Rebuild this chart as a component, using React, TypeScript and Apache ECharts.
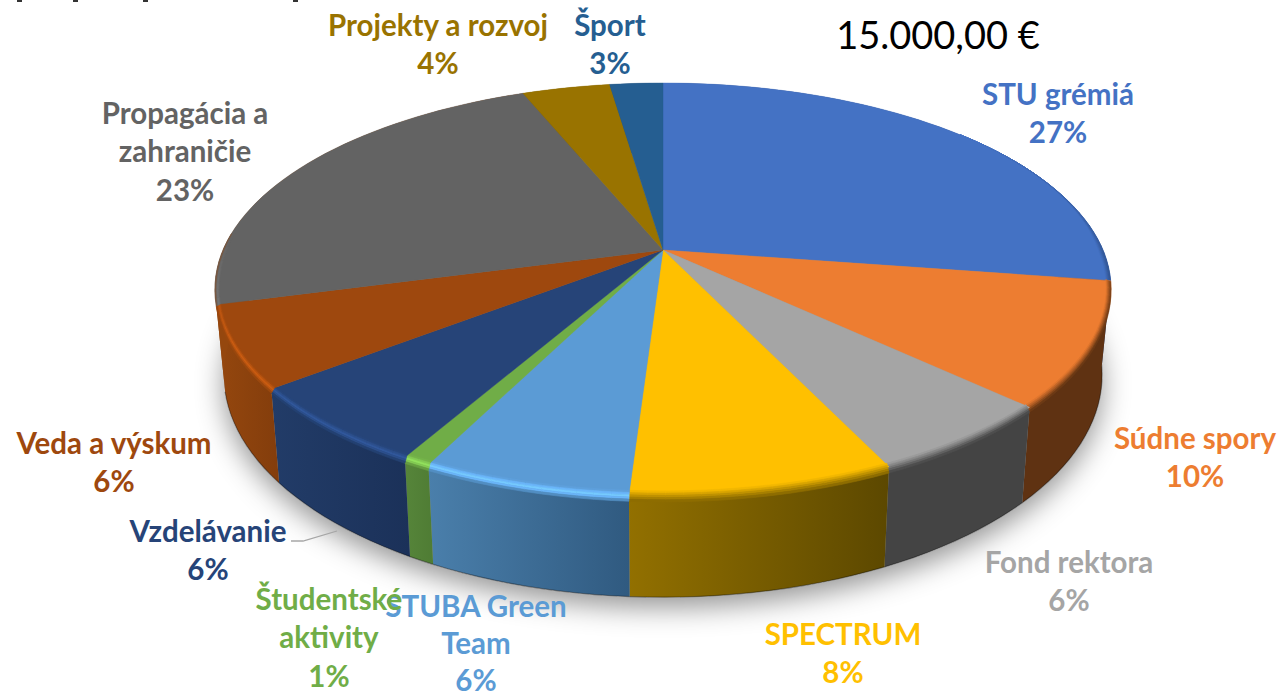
import React, { useEffect, useRef } from "react";
import * as echarts from "echarts";

// Names and rounded percentages printed on the chart
const categories = ["STU grémiá", "Súdne spory", "Fond rektora", "SPECTRUM", "STUBA Green\nTeam", "Študentské\naktivity", "Vzdelávanie", "Veda a výskum", "Propagácia a\nzahraničie", "Projekty a rozvoj", "Šport"];
const percentLabels = [27, 10, 6, 8, 6, 1, 6, 6, 23, 4, 3];
// Slice shares
const shares = [27.4, 9.7, 5.9, 8.0, 6.3, 0.85, 6.25, 6.4, 23.1, 3.8, 2.3];
const totalLabel = "15.000,00 €";

const topColors = ["#4472c4", "#ed7d31", "#a5a5a5", "#ffc000", "#5b9bd5", "#70ad47", "#264478", "#9e480e", "#636363", "#997300", "#255e91"];
const sideFrom = ["#2b4a80", "#5f3212", "#444444", "#927000", "#4a7fab", "#56853a", "#223c68", "#95470e", "#95470e", "#6a5000", "#1b4468"];
const sideTo = ["#2b4a80", "#5f3212", "#444444", "#5c4800", "#305a80", "#4f7c34", "#1b3159", "#833d0c", "#95470e", "#6a5000", "#1b4468"];
const labelCenters = [[1058, 93], [1195, 437], [1069, 561], [843, 633], [476, 605], [329, 598], [208, 530], [114, 442], [185, 112], [438, 24], [610, 24]];
const labelGaps = [38.5, 38.5, 38.5, 38.5, 37, 38.5, 38.5, 38.5, 38.5, 38.5, 38.5];

const CX = 663, CY = 250, A = 198.6, B = 440, K = -0.189, DEPTH = 83, BOTTOM_X = 0.98;
const FONT = "Lato, Carlito, sans-serif";
const TOTAL = shares.reduce((a, b) => a + b, 0);
const rad = (v: number) => (v / TOTAL) * Math.PI * 2;
const startOf = (i: number) => rad(shares.slice(0, i).reduce((a, b) => a + b, 0));

const uv = (t: number) => [Math.sin(t), -Math.cos(t)];
const top = (t: number, r = 1) => {
  const [u, v] = uv(t);
  const w = 1 + K * r * v;
  return [CX + (B * r * u) / w, CY + (A * r * v) / w];
};
const bottom = (t: number) => {
  const [u, v] = uv(t);
  const w = 1 + K * v;
  return [CX + (BOTTOM_X * B * u) / w, CY + (A * v) / w + DEPTH / w];
};
const arc = (a: number, b: number, f: (t: number) => number[]) => {
  const n = Math.max(2, Math.ceil((b - a) / (Math.PI / 90)));
  const out: number[][] = [];
  for (let i = 0; i <= n; i++) out.push(f(a + ((b - a) * i) / n));
  return out;
};
const hex = (c: string) => [1, 3, 5].map((i) => parseInt(c.slice(i, i + 2), 16));
const css = (c: number[]) => `rgb(${c.map((v) => Math.round(Math.min(255, Math.max(0, v)))).join(",")})`;
const mix = (a: number[], b: number[], s: number) => a.map((v, i) => v + (b[i] - v) * s);
const clamp = (v: number) => Math.min(1, Math.max(0, v));

// f = 1 on the inside of the bevel, f = 0 on its outer edge, which lies over the side wall
const rimPoint = (t: number, f: number) => {
  const [u, v] = uv(t);
  const p = top(t);
  const g = clamp((v + 0.45) / 0.45);
  const inner = 4 * Math.max(v, 0.28) * g;
  const outer = 7 * Math.max(v, 0);
  return [p[0] - 5 * u * g * f, p[1] - inner * f + outer * (1 - f)];
};

const rimBands = (i: number, a: number, b: number) => {
  const out: any[] = [];
  const tc = hex(topColors[i]);
  const sc = mix(hex(sideFrom[i]), hex(sideTo[i]), 0.3);
  const fs = [1, 0.8, 0.6, 0.4, 0.2, 0];
  const step = Math.PI / 90;
  const n = Math.max(1, Math.ceil((b - a) / step));
  const lit = i >= 4;
  for (let s = 0; s < n; s++) {
    const t0 = a + ((b - a) * s) / n;
    const t1 = a + ((b - a) * (s + 1)) / n;
    const deg = (((t0 + t1) / 2) * 180) / Math.PI;
    if (deg < 50 || deg > 275) continue;
    const dark = lit ? 0.2 : clamp((deg - 50) / 60);
    const light = lit ? clamp((275 - deg) / 30) : 0;
    for (let k = 0; k < fs.length - 1; k++) {
      const f = (fs[k] + fs[k + 1]) / 2;
      const bump = Math.max(0, 1 - Math.abs(f - 0.5) / 0.45);
      let c = tc.map((x) => x * (1 + 0.3 * light * bump));
      const toSide = lit ? clamp((0.25 - f) / 0.25) * 0.7 : dark * (1 - f);
      c = mix(c, sc, toSide);
      const color = css(c);
      out.push({
        type: "polygon",
        shape: { points: [rimPoint(t0, fs[k]), rimPoint(t1, fs[k]), rimPoint(t1, fs[k + 1]), rimPoint(t0, fs[k + 1])] },
        style: { fill: color, stroke: color, lineWidth: 0.6 },
      });
    }
  }
  return out;
};

const shadowItem = () => ({
  type: "polygon",
  shape: { points: arc(0, Math.PI * 2, bottom) },
  style: { fill: "#999999", shadowBlur: 28, shadowOffsetY: 10, shadowOffsetX: 0, shadowColor: "rgba(0,0,0,0.42)" },
});

const sideItem = (params: any) => {
  const i = params.dataIndex;
  const a = startOf(i);
  const b = a + rad(shares[i]);
  const upper = arc(a, b, (t) => top(t));
  const lower = arc(a, b, bottom);
  const edge = i > 7 ? [] : lower.filter((_, k) => uv(a + ((b - a) * k) / (lower.length - 1))[1] > -0.05);
  const children: any[] = [{
    type: "polygon",
    shape: { points: [...upper, ...lower.slice().reverse()] },
    style: {
      fill: { type: "linear", x: 0, y: 0, x2: 1, y2: 0, colorStops: [{ offset: 0, color: sideFrom[i] }, { offset: 1, color: sideTo[i] }] },
    },
  }];
  if (edge.length > 1) {
    children.push({ type: "polyline", shape: { points: edge }, style: { fill: "none", stroke: "rgba(0,0,0,0.35)", lineWidth: 1.2 } });
  }
  return { type: "group", children };
};

const topItem = (params: any) => {
  const i = params.dataIndex;
  const a = startOf(i);
  const b = a + rad(shares[i]);
  const color = topColors[i];
  const lines = [...categories[i].split("\n"), `${percentLabels[i]}%`];
  const [lx, ly] = labelCenters[i];
  return {
    type: "group",
    children: [
      { type: "polygon", shape: { points: [[CX, CY], ...arc(a, b, (t) => top(t))] }, style: { fill: color, stroke: color, lineWidth: 0.4 } },
      ...rimBands(i, a, b),
      ...lines.map((text, k) => ({
        type: "text",
        z2: 50,
        style: { text, x: lx, y: ly + k * labelGaps[i], fill: color, font: `bold 29.5px ${FONT}`, align: "center", verticalAlign: "middle" },
      })),
    ],
  };
};

export default function App() {
  const ref = useRef<HTMLDivElement>(null);
  useEffect(() => {
    document.body.style.margin = "0";
    const chart = echarts.init(ref.current!, null, { renderer: "svg" });
    const data = shares.map((v) => [v]);
    chart.setOption({
      animation: false,
      backgroundColor: "#ffffff",
      graphic: [
        { type: "text", z: 100, style: { text: totalLabel, x: 938, y: 34, fill: "#000000", font: `38px ${FONT}`, align: "center", verticalAlign: "middle" } },
        { type: "polyline", z: 100, shape: { points: [[291, 541], [303, 541], [337, 531]] }, style: { fill: "none", stroke: "#a6a6a6", lineWidth: 1.3 } },
        ...[17, 73, 143, 293].map((x) => ({ type: "rect", z: 100, shape: { x, y: 0, width: 5, height: 2 }, style: { fill: "#333333" } })),
      ],
      series: [
        { type: "custom", coordinateSystem: "none", z: 1, silent: true, data: [[1]], renderItem: shadowItem },
        { type: "custom", coordinateSystem: "none", z: 2, silent: true, data, renderItem: sideItem },
        { type: "custom", coordinateSystem: "none", z: 3, silent: true, data, renderItem: topItem },
      ],
    });
    return () => chart.dispose();
  }, []);
  return <div ref={ref} style={{ position: "absolute", left: 0, top: 0, width: 1281, height: 694 }} />;
}
